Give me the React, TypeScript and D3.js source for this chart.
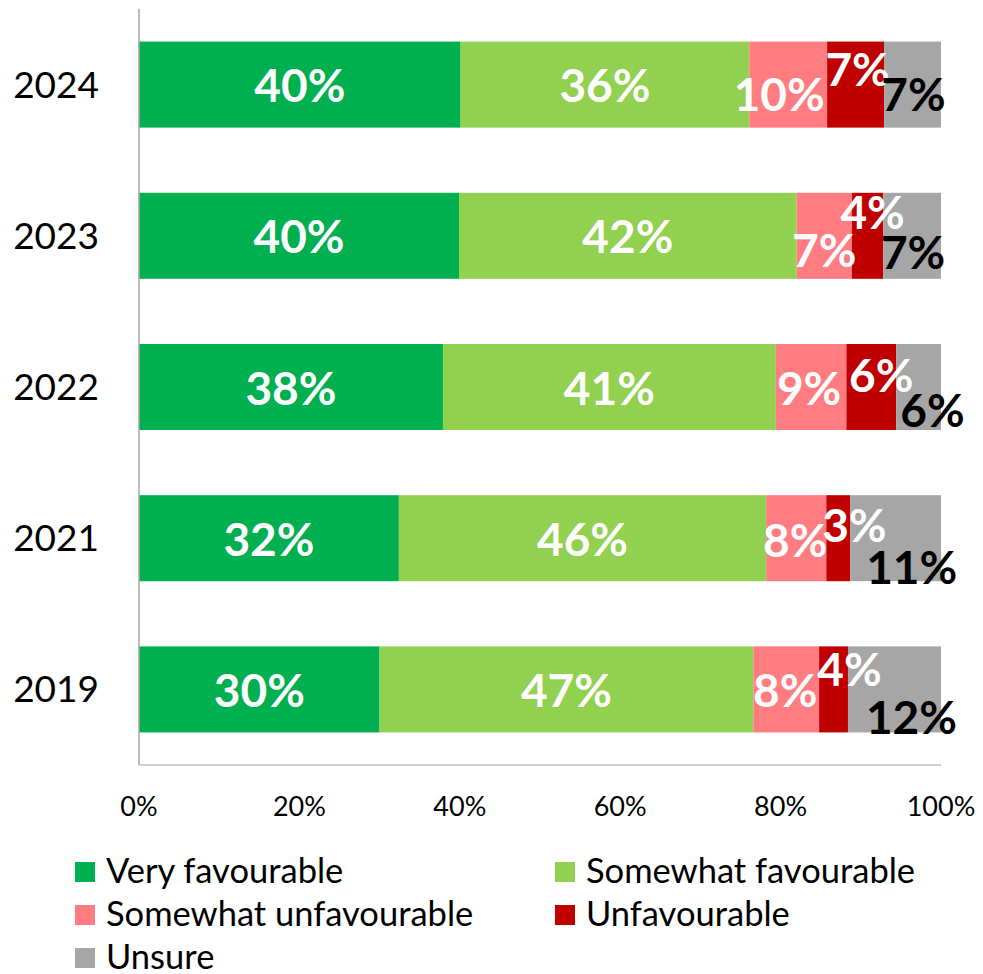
import * as d3 from "d3";
import React from "react";

// survey years, top to bottom
const years = ["2024", "2023", "2022", "2021", "2019"];
const seriesNames = [
  "Very favourable",
  "Somewhat favourable",
  "Somewhat unfavourable",
  "Unfavourable",
  "Unsure",
];
// share of respondents (%) per year, same order as seriesNames
const veryFav = [40.1, 39.9, 37.9, 32.4, 30.0];
const somewhatFav = [36.0, 42.1, 41.5, 45.8, 46.6];
const somewhatUnfav = [9.7, 6.9, 8.8, 7.5, 8.2];
const unfav = [7.1, 3.9, 6.2, 3.0, 3.6];
const unsure = [7.1, 7.2, 5.6, 11.3, 11.6];
// the rounded labels printed on the bars
const veryFavLabels = ["40%", "40%", "38%", "32%", "30%"];
const somewhatFavLabels = ["36%", "42%", "41%", "46%", "47%"];
const somewhatUnfavLabels = ["10%", "7%", "9%", "8%", "8%"];
const unfavLabels = ["7%", "4%", "6%", "3%", "4%"];
const unsureLabels = ["7%", "7%", "6%", "11%", "12%"];
const xTicks = [0, 20, 40, 60, 80, 100];

const colors = ["#00b050", "#92d050", "#ff7c80", "#c00000", "#a6a6a6"];
const labelColors = ["#fff", "#fff", "#fff", "#fff", "#000"];

// hand-placed label nudges [dx, dy] (the labels were dragged around in the original)
const nudges = [
  [[0, 1], [0, 1], [-9, 10], [2, -15], [1, 10]],
  [[0, 1], [0, 1], [0, 15], [5, -23], [1, 17]],
  [[0, 1], [0, 1], [-2, 1], [10, -12], [14, 23]],
  [[0, 1], [0, 1], [-1, 2], [16, -13], [16, 29]],
  [[0, 1], [0, 1], [-1, 1], [16, -20], [17, 28]],
];

const W = 983;
const H = 974;
const FONT = "Lato, 'Open Sans', sans-serif";

export default function App() {
  const allValues = [veryFav, somewhatFav, somewhatUnfav, unfav, unsure];
  const allLabels = [veryFavLabels, somewhatFavLabels, somewhatUnfavLabels, unfavLabels, unsureLabels];

  const x = d3.scaleLinear().domain([0, 100]).range([139, 941]);
  const y = d3.scaleBand().domain(years).range([9, 765]).paddingInner(0.431).paddingOuter(0.2155);

  const rows = years.map((yr, i) => {
    const vals = allValues.map((s) => s[i]);
    const ends = d3.cumsum(vals);
    return { yr, i, segs: vals.map((v, k) => ({ k, x0: ends[k] - v, x1: ends[k], label: allLabels[k][i] })) };
  });

  const labelSize = 46;
  const legendRows = [
    [0, 1],
    [2, 3],
    [4],
  ];

  return (
    <svg width={W} height={H} style={{ position: "absolute", left: 0, top: 0, background: "#fff" }} fontFamily={FONT}>
      {rows.map((r) => {
        const top = y(r.yr)!;
        const bw = y.bandwidth();
        const cy = top + bw / 2;
        return (
          <g key={r.yr}>
            <text x={99} y={cy + 13} textAnchor="end" fontSize={37} fill="#000">
              {r.yr}
            </text>
            {r.segs.map((s) => (
              <rect key={s.k} x={x(s.x0)} y={top} width={x(s.x1) - x(s.x0)} height={bw} fill={colors[s.k]} />
            ))}
          </g>
        );
      })}
      <line x1={139} x2={139} y1={9} y2={765} stroke="#a6a6a6" strokeWidth={1.5} />
      <line x1={139} x2={941} y1={765} y2={765} stroke="#bfbfbf" strokeWidth={1.5} />
      {rows.map((r) => {
        const cy = y(r.yr)! + y.bandwidth() / 2;
        return r.segs.map((s) => {
          const [dx, dy] = nudges[r.i][s.k];
          const cx = (x(s.x0) + x(s.x1)) / 2;
          return (
            <text
              key={r.yr + s.k}
              x={cx + dx}
              y={cy + dy + labelSize * 0.36}
              textAnchor="middle"
              fontSize={labelSize}
              fontWeight="bold"
              fill={labelColors[s.k]}
            >
              {s.label}
            </text>
          );
        });
      })}
      {xTicks.map((t) => (
        <text key={t} x={x(t)} y={816} textAnchor="middle" fontSize={27} fill="#000">
          {t + "%"}
        </text>
      ))}
      {legendRows.map((row, ri) =>
        row.map((k, ci) => {
          const lx = ci === 0 ? 75 : 555;
          const ly = 872 + ri * 43;
          return (
            <g key={k}>
              <rect x={lx} y={ly - 10} width={20} height={20} fill={colors[k]} />
              <text x={lx + 31} y={ly + 11} fontSize={34.5} fill="#000">
                {seriesNames[k]}
              </text>
            </g>
          );
        })
      )}
    </svg>
  );
}
